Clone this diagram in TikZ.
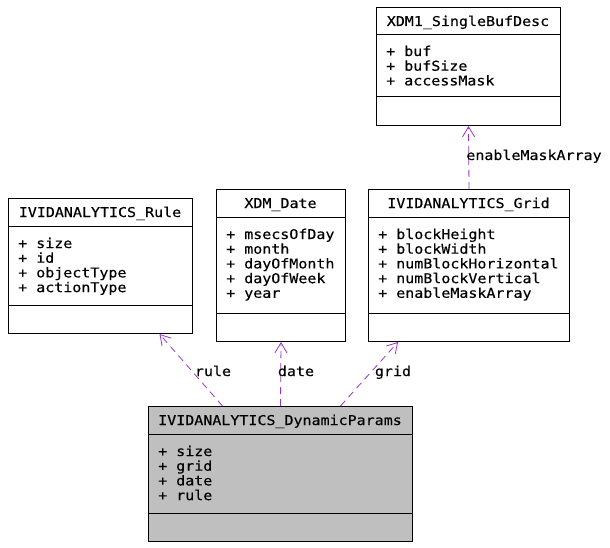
\documentclass[tikz,border=0pt]{standalone}
\usepackage{fontspec}
\setmonofont[FakeStretch=1.11,FakeBold=0.3]{DejaVu Sans Mono}
\usetikzlibrary{arrows.meta}
\definecolor{edgecol}{HTML}{9A32CD}
\definecolor{dynfill}{HTML}{BFBFBF}
\begin{document}
\begin{tikzpicture}[x=1pt,y=-1pt,
  box/.style={draw, line width=1pt, inner sep=0pt, anchor=north west},
  sepline/.style={line width=1pt},
  txt/.style={font=\ttfamily\fontsize{13.5}{15}\selectfont, inner sep=0pt, anchor=base west},
  ttl/.style={txt, anchor=base},
  dep/.style={draw=edgecol, line width=0.8pt, dash pattern=on 7pt off 5pt, -{Straight Barb[length=10pt,width=12pt]}},
  lbl/.style={txt, anchor=base}]
\useasboundingbox (0,0) rectangle (610,548);

% XDM1_SingleBufDesc
\node[box, minimum width=184pt, minimum height=118pt] (buf) at (376,7) {};
\draw[sepline] (376,35) -- (560,35);
\draw[sepline] (376,97) -- (560,97);
\node[ttl] (bufT) at (468,26) {XDM1\_SingleBufDesc};
\node[txt] (bufA) at (386,56) {+ buf};
\node[txt] (bufB) at (386,70.7) {+ bufSize};
\node[txt] (bufC) at (386,85.4) {+ accessMask};

% IVIDANALYTICS_Rule
\node[box, minimum width=184pt, minimum height=135pt] (rule) at (8,198) {};
\draw[sepline] (8,226) -- (192,226);
\draw[sepline] (8,305) -- (192,305);
\node[ttl] (ruleT) at (100,217) {IVIDANALYTICS\_Rule};
\node[txt] (ruleA) at (18,248) {+ size};
\node[txt] (ruleB) at (18,262.7) {+ id};
\node[txt] (ruleC) at (18,277.4) {+ objectType};
\node[txt] (ruleD) at (18,292.1) {+ actionType};

% XDM_Date
\node[box, minimum width=129pt, minimum height=152pt] (date) at (216,189) {};
\draw[sepline] (216,217) -- (345,217);
\draw[sepline] (216,313) -- (345,313);
\node[ttl] (dateT) at (280.5,208) {XDM\_Date};
\node[txt] (dateA) at (226,239) {+ msecsOfDay};
\node[txt] (dateB) at (226,253.7) {+ month};
\node[txt] (dateC) at (226,268.4) {+ dayOfMonth};
\node[txt] (dateD) at (226,283.1) {+ dayOfWeek};
\node[txt] (dateE) at (226,297.8) {+ year};

% IVIDANALYTICS_Grid
\node[box, minimum width=201pt, minimum height=152pt] (grid) at (368,189) {};
\draw[sepline] (368,217) -- (569,217);
\draw[sepline] (368,313) -- (569,313);
\node[ttl] (gridT) at (468.5,208) {IVIDANALYTICS\_Grid};
\node[txt] (gridA) at (378,239) {+ blockHeight};
\node[txt] (gridB) at (378,253.7) {+ blockWidth};
\node[txt] (gridC) at (378,268.4) {+ numBlockHorizontal};
\node[txt] (gridD) at (378,283.1) {+ numBlockVertical};
\node[txt] (gridE) at (378,297.8) {+ enableMaskArray};

% IVIDANALYTICS_DynamicParams
\node[box, fill=dynfill, minimum width=264pt, minimum height=135pt] (dyn) at (148,406) {};
\draw[sepline] (148,434) -- (412,434);
\draw[sepline] (148,513) -- (412,513);
\node[ttl] (dynT) at (280,425) {IVIDANALYTICS\_DynamicParams};
\node[txt] (dynA) at (158,456) {+ size};
\node[txt] (dynB) at (158,470.7) {+ grid};
\node[txt] (dynC) at (158,485.4) {+ date};
\node[txt] (dynD) at (158,500.1) {+ rule};

% connectors
\draw[dep] ([xshift=-58pt]dyn.north) -- ([xshift=59pt]rule.south);
\draw[dep] (dyn.north) -- (date.south);
\draw[dep] ([xshift=60pt]dyn.north) -- ([xshift=-71pt]grid.south);
\draw[dep] (grid.north) -- (buf.south);

% labels
\node[lbl] (lRule) at (213,376) {rule};
\node[lbl] (lDate) at (296,376) {date};
\node[lbl] (lGrid) at (393,376) {grid};
\node[lbl] (lMask) at (534,160) {enableMaskArray};
\end{tikzpicture}
\end{document}
